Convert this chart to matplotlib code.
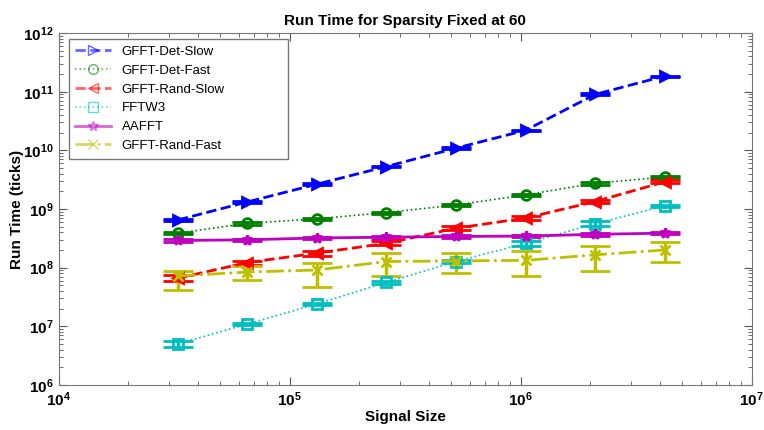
import numpy as np
import matplotlib.pyplot as plt
from matplotlib.ticker import LogLocator, FuncFormatter, NullFormatter

plt.rcParams['font.family'] = ['Liberation Sans', 'DejaVu Sans']
plt.rcParams['mathtext.fontset'] = 'custom'
plt.rcParams['mathtext.rm'] = 'Liberation Sans'
plt.rcParams['mathtext.bf'] = 'Liberation Sans:bold'

sizes = 2.0 ** np.arange(15, 23)

det_slow = [6.5e8, 1.32e9, 2.65e9, 5.3e9, 1.09e10, 2.2e10, 9.0e10, 1.85e11]
det_fast = [3.87e8, 5.7e8, 6.8e8, 8.7e8, 1.17e9, 1.74e9, 2.75e9, 3.5e9]
rand_slow = [6.6e7, 1.22e8, 1.77e8, 2.6e8, 4.7e8, 7.0e8, 1.34e9, 2.9e9]
fftw3 = [5.0e6, 1.09e7, 2.4e7, 5.6e7, 1.27e8, 2.6e8, 5.6e8, 1.13e9]
aafft = [2.9e8, 2.98e8, 3.2e8, 3.3e8, 3.4e8, 3.45e8, 3.7e8, 3.87e8]
rand_fast = [7.2e7, 8.4e7, 9.1e7, 1.27e8, 1.3e8, 1.33e8, 1.65e8, 2.0e8]
rand_fast_lo = [4.2e7, 6.2e7, 4.7e7, 7.1e7, 8.1e7, 7.2e7, 8.9e7, 1.27e8]
rand_fast_hi = [8.8e7, 1.07e8, 1.22e8, 1.77e8, 1.8e8, 1.95e8, 2.34e8, 2.7e8]

# relative half-spread of the error bars for the tighter series
det_slow_spread = [0.03, 0.03, 0.03, 0.03, 0.03, 0.03, 0.04, 0.02]
det_fast_spread = [0.05, 0.05, 0.05, 0.04, 0.05, 0.05, 0.05, 0.05]
rand_slow_spread = [0.12, 0.08, 0.10, 0.08, 0.07, 0.07, 0.07, 0.06]
fftw3_spread = [0.10, 0.05, 0.05, 0.06, 0.07, 0.10, 0.10, 0.03]
aafft_spread = [0.06, 0.05, 0.03, 0.06, 0.05, 0.05, 0.05, 0.03]

labels = ['GFFT-Det-Slow', 'GFFT-Det-Fast', 'GFFT-Rand-Slow', 'FFTW3', 'AAFFT', 'GFFT-Rand-Fast']


def sym_err(vals, spread):
    v = np.array(vals)
    s = np.array(spread)
    return [v * s, v * s]


# values, errors, colour, linestyle, marker, linewidth, filled marker
series = [
    (det_slow, sym_err(det_slow, det_slow_spread), '#0000ff', '--', '>', 2.0, True),
    (det_fast, sym_err(det_fast, det_fast_spread), '#007f00', ':', 'o', 1.2, False),
    (rand_slow, sym_err(rand_slow, rand_slow_spread), '#ff0000', '--', '<', 2.0, True),
    (fftw3, sym_err(fftw3, fftw3_spread), '#00bfbf', ':', 's', 1.2, False),
    (aafft, sym_err(aafft, aafft_spread), '#bf00bf', '-', '*', 2.0, True),
    (rand_fast, [np.array(rand_fast) - np.array(rand_fast_lo),
                 np.array(rand_fast_hi) - np.array(rand_fast)], '#bfbf00', '-.', 'x', 2.0, False),
]

fig = plt.figure(figsize=(7.64, 4.30), dpi=100)
ax = fig.add_axes([0.077, 0.105, 0.907, 0.818])

handles = []
for (vals, err, col, ls, mk, lw, filled), lab in zip(series, labels):
    cont = ax.errorbar(sizes, vals, yerr=err, color=col, ls=ls, lw=lw,
                       marker=mk, ms=7, mfc=col if filled else 'none', mew=2.0,
                       elinewidth=2.5, capsize=11, capthick=2.5)
    handles.append(cont.lines[0])

ax.set_xscale('log')
ax.set_yscale('log')
ax.set_xlim(1e4, 1e7)
ax.set_ylim(1e6, 1e12)

fmt = FuncFormatter(lambda v, p: r'$\mathbf{10^{%d}}$' % round(np.log10(v)))
ax.xaxis.set_major_formatter(fmt)
ax.yaxis.set_major_formatter(fmt)
ax.xaxis.set_major_locator(LogLocator(base=10, numticks=10))
ax.yaxis.set_major_locator(LogLocator(base=10, numticks=10))
ax.xaxis.set_minor_locator(LogLocator(base=10, subs=np.arange(2, 10), numticks=10))
ax.yaxis.set_minor_locator(LogLocator(base=10, subs=np.arange(2, 10), numticks=10))
ax.xaxis.set_minor_formatter(NullFormatter())
ax.yaxis.set_minor_formatter(NullFormatter())
ax.tick_params(which='both', direction='in', top=True, right=True, colors='#555555',
               labelcolor='black', labelsize=11)
ax.tick_params(which='major', length=6, pad=4)
ax.tick_params(which='minor', length=3)
for sp in ax.spines.values():
    sp.set_color('#777777')

ax.set_title('Run Time for Sparsity Fixed at 60', fontsize=11, fontweight='bold')
ax.set_xlabel('Signal Size', fontsize=11, fontweight='bold', labelpad=1)
ax.set_ylabel('Run Time (ticks)', fontsize=11, fontweight='bold', labelpad=-1)

leg = ax.legend(handles, labels, loc='upper left', mode='expand', fontsize=9.5,
                handlelength=2.7, fancybox=False, framealpha=1, borderpad=0.5,
                labelspacing=0.5, borderaxespad=0,
                bbox_to_anchor=(0.0145, 0.6, 0.316, 0.383))
leg.get_frame().set_edgecolor('#777777')
for h in leg.legend_handles:
    h.set_alpha(0.6)
    h.set_markeredgewidth(1.0)
    h.set_markerfacecolor('none')

fig.savefig('out.png', dpi=100)
